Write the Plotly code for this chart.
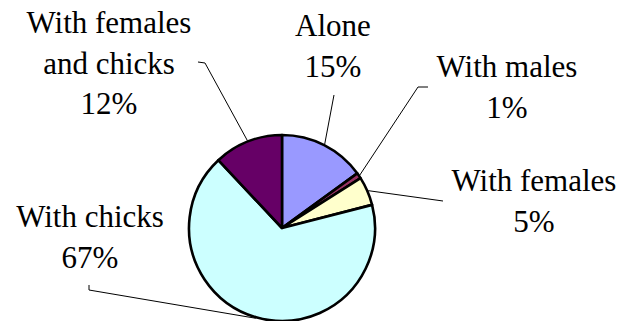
import math
import plotly.graph_objects as go

# Share of observations by social grouping
categories = ["Alone", "With males", "With females", "With chicks", "With females and chicks"]
shares = [15, 1, 5, 67, 12]
slice_colors = ["#9999FF", "#993366", "#FFFFCC", "#CCFFFF", "#660066"]
label_lines = [["Alone"], ["With males"], ["With females"], ["With chicks"], ["With females", "and chicks"]]

W, H = 621, 321
CX, CY, R = 282, 228, 93  # pie centre and radius in pixels

# label block centres (px) and leader-line elbows (px, listed from the label side)
label_pos = [(332, 46), (506, 87), (533, 201), (89, 237), (108, 63)]
elbows = [
    [(334, 95)],
    [(428, 87), (418, 87)],
    [(443, 201)],
    [(89, 285), (89, 290)],
    [(198, 62), (205, 63)],
]

BOX_W = 200  # fixed label box width keeps centred lines on whole pixels

def px(x):
    return x / W

def py(y):
    return 1 - y / H

fig = go.Figure(go.Pie(
    labels=categories,
    values=shares,
    sort=False,
    direction="clockwise",
    rotation=0,
    textinfo="none",
    hoverinfo="label+percent",
    marker=dict(colors=slice_colors, line=dict(color="black", width=2.6)),
    domain=dict(x=[px(CX - R), px(CX + R)], y=[py(CY + R), py(CY - R)]),
    showlegend=False,
))

total = sum(shares)
cum = 0
for name, val, lines, (lx, ly), elbow in zip(categories, shares, label_lines, label_pos, elbows):
    mid = (cum + val / 2) / total * 2 * math.pi
    cum += val
    ex = CX + (R + 1) * math.sin(mid)
    ey = CY - (R + 1) * math.cos(mid)
    pts = elbow + [(ex, ey)]
    fig.add_shape(type="path", xref="paper", yref="paper",
                  path="M " + " L ".join(f"{px(x):.5f},{py(y):.5f}" for x, y in pts),
                  line=dict(color="black", width=1))
    pct = round(val / total * 100)
    text_lines = lines + [f"{pct}%"]
    box_h = 40 * len(text_lines) + 10
    fig.add_annotation(
        x=px(lx - BOX_W / 2 - 1), y=py(ly), xref="paper", yref="paper",
        xanchor="left", yanchor="middle", width=BOX_W, height=box_h,
        align="center", valign="middle", showarrow=False,
        text="<br>".join(text_lines),
        font=dict(family="Liberation Serif", size=31, color="black"),
    )

fig.update_layout(
    width=W, height=H,
    margin=dict(l=0, r=0, t=0, b=0),
    paper_bgcolor="white",
    plot_bgcolor="white",
)

fig.write_html("out.html")
